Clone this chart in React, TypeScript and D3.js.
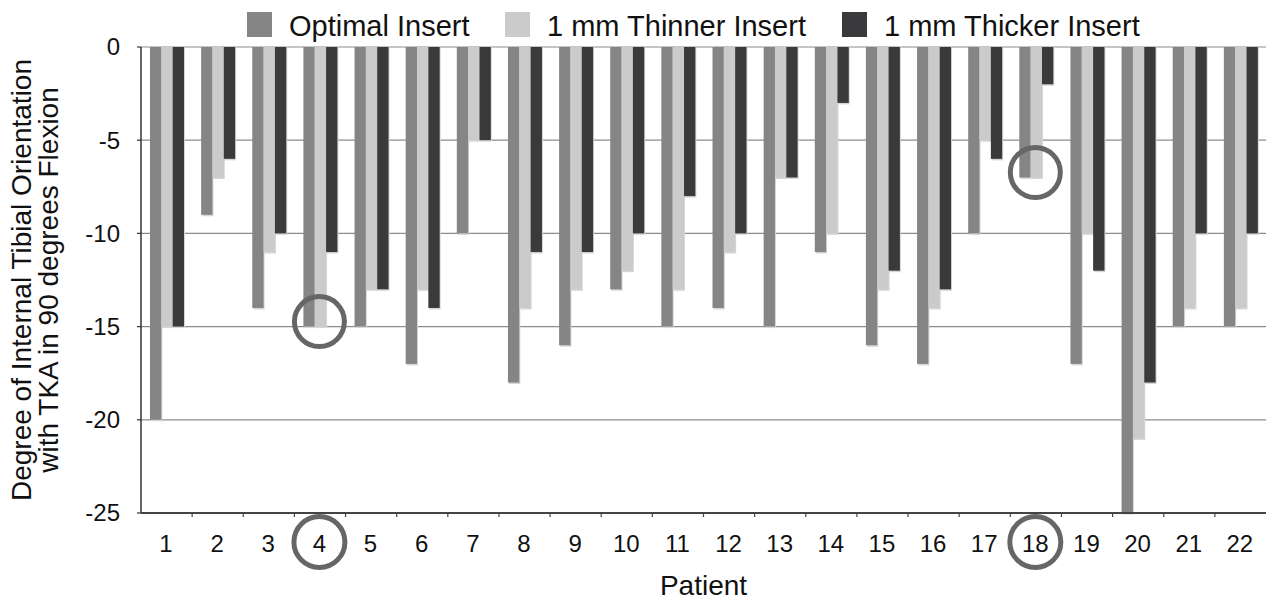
import React from "react";
import * as d3 from "d3";

// patients along the x axis
const patients = ["1", "2", "3", "4", "5", "6", "7", "8", "9", "10", "11", "12", "13", "14", "15", "16", "17", "18", "19", "20", "21", "22"];

// degree of internal tibial orientation for each insert
const optimal = [-20, -9, -14, -15, -15, -17, -10, -18, -16, -13, -15, -14, -15, -11, -16, -17, -10, -7, -17, -25, -15, -15];
const thinner = [-15, -7, -11, -15, -13, -13, -5, -14, -13, -12, -13, -11, -7, -10, -13, -14, -5, -7, -10, -21, -14, -14];
const thicker = [-15, -6, -10, -11, -13, -14, -5, -11, -11, -10, -8, -10, -7, -3, -12, -13, -6, -2, -12, -18, -10, -10];

const seriesNames = ["Optimal Insert", "1 mm Thinner Insert", "1 mm Thicker Insert"];
const seriesColors = ["#858585", "#cbcbcb", "#3a3a3c"];

const yTicks = [0, -5, -10, -15, -20, -25];

// circled patients (value is where the circle sits on the bars)
const highlights = [
  { patient: "4", value: -15 },
  { patient: "18", value: -7 },
];

const W = 1266;
const H = 603;
const margin = { top: 47, right: 0, bottom: 90, left: 141 };
const FONT = "'Liberation Sans', Arial, sans-serif";

const App = () => {
  const plotBottom = H - margin.bottom;

  const x0 = d3.scaleBand<string>()
    .domain(patients)
    .range([margin.left, W - margin.right])
    .padding(0);

  // group of three bars sits a bit left of the band centre
  const x1 = d3.scaleBand<number>()
    .domain([0, 1, 2])
    .range([9, 43])
    .padding(0);

  const y = d3.scaleLinear()
    .domain([0, -25])
    .range([margin.top, plotBottom]);

  const series = [optimal, thinner, thicker];

  const groupCenter = (p: string) => (x0(p) || 0) + 26;

  return (
    <svg
      width={W}
      height={H}
      style={{ position: "absolute", left: 0, top: 0, background: "#fff" }}
      fontFamily={FONT}
    >
      {/* Legend */}
      {seriesNames.map((name, i) => {
        const lx = [247, 505, 842][i];
        return (
          <g key={name}>
            <rect x={lx} y={12} width={25} height={25} fill={seriesColors[i]} />
            <text x={lx + 42} y={36} fontSize={29} fill="#111">{name}</text>
          </g>
        );
      })}

      {/* Grid lines */}
      {yTicks.filter(t => t !== -25).map(t => (
        <line
          key={t}
          x1={margin.left}
          x2={W - margin.right}
          y1={y(t)}
          y2={y(t)}
          stroke="#8c8c8c"
          strokeWidth={1.2}
        />
      ))}

      {/* Bars */}
      {series.map((vals, s) => (
        <g key={s}>
          {vals.map((v, i) => {
            const bx = (x0(patients[i]) || 0) + (x1(s) || 0);
            const bw = x1.bandwidth();
            return (
              <g key={i}>
                <rect
                  x={bx + 1}
                  y={y(0)}
                  width={bw}
                  height={y(v) - y(0) + 1.5}
                  fill="#d6d6d6"
                />
                <rect
                  x={bx}
                  y={y(0)}
                  width={bw}
                  height={y(v) - y(0)}
                  fill={seriesColors[s]}
                />
              </g>
            );
          })}
        </g>
      ))}

      {/* Y axis */}
      <line x1={margin.left} x2={margin.left} y1={y(0)} y2={plotBottom} stroke="#333" strokeWidth={1.5} />
      {yTicks.map(t => (
        <g key={t}>
          <line x1={margin.left - 4} x2={margin.left} y1={y(t)} y2={y(t)} stroke="#333" strokeWidth={1.2} />
          <text
            x={margin.left - 21}
            y={y(t)}
            dy="0.35em"
            textAnchor="end"
            fontSize={24}
            fill="#111"
          >
            {t}
          </text>
        </g>
      ))}

      {/* X axis */}
      <line x1={margin.left} x2={W - margin.right} y1={plotBottom} y2={plotBottom} stroke="#444" strokeWidth={2} />
      {patients.map((p, i) => (
        <g key={p}>
          {i > 0 && (
            <line
              x1={x0(p) || 0}
              x2={x0(p) || 0}
              y1={plotBottom}
              y2={plotBottom + 4}
              stroke="#444"
              strokeWidth={1.2}
            />
          )}
          <text
            x={groupCenter(p) - 1}
            y={552}
            textAnchor="middle"
            fontSize={24}
            fill="#111"
          >
            {p}
          </text>
        </g>
      ))}

      {/* Axis titles */}
      <text x={(margin.left + W) / 2} y={595} textAnchor="middle" fontSize={28} fill="#111">
        Patient
      </text>
      <g transform={`translate(0,${(y(0) + plotBottom) / 2}) rotate(-90)`}>
        <text x={0} y={31} textAnchor="middle" fontSize={28} fill="#111">
          Degree of Internal Tibial Orientation
        </text>
        <text x={0} y={58} textAnchor="middle" fontSize={28} fill="#111">
          with TKA in 90 degrees Flexion
        </text>
      </g>

      {/* Highlight circles */}
      {highlights.map(h => (
        <g key={h.patient}>
          <circle
            cx={groupCenter(h.patient) - 1}
            cy={y(h.value) - 5}
            r={25}
            fill="none"
            stroke="#666"
            strokeWidth={5}
          />
          <circle
            cx={groupCenter(h.patient) - 1}
            cy={542}
            r={25.5}
            fill="none"
            stroke="#666"
            strokeWidth={5}
          />
        </g>
      ))}
    </svg>
  );
};

export default App;
